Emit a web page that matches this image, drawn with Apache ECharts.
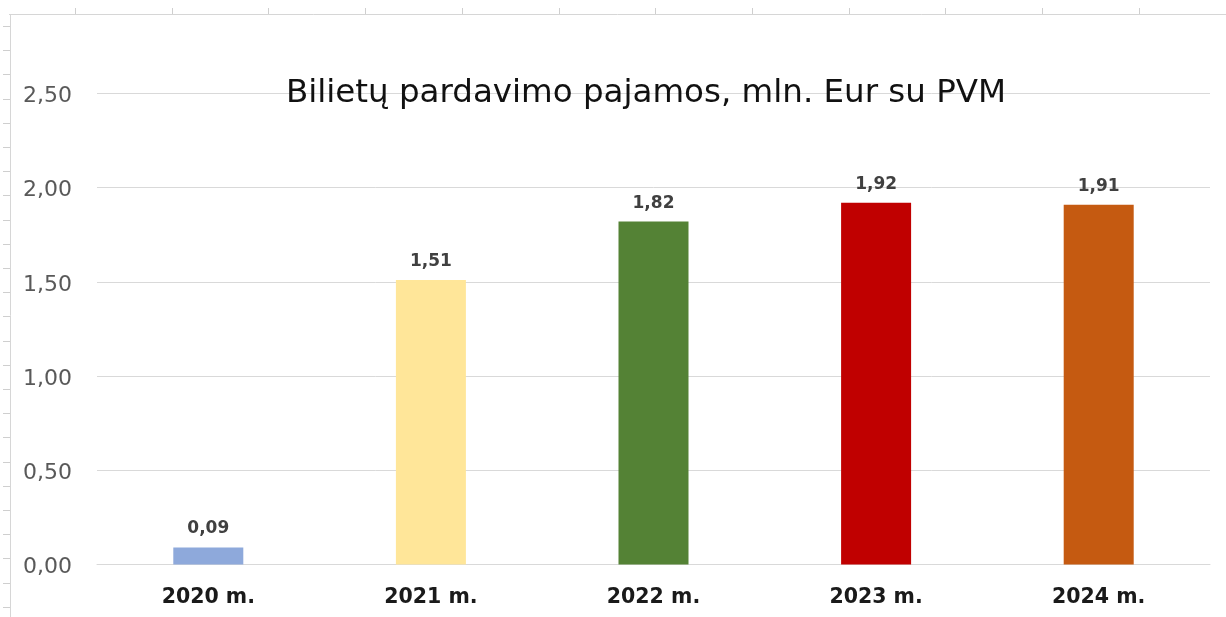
<!DOCTYPE html>
<html lang="lt">
<head>
  <meta charset="UTF-8">
  <title>Bilietų pardavimo pajamos</title>
  <style>
    html, body {
      width: 100%;
      height: 100%;
      margin: 0;
      background: #fff;
    }
  </style>
</head>
<body>
  <div id="chart" style="width:1226px;height:617px"></div>
  <script src="https://cdn.jsdelivr.net/npm/echarts@6/dist/echarts.min.js"></script>
  <script>
    var years = ['2020 m.', '2021 m.', '2022 m.', '2023 m.', '2024 m.'];
    var revenue = [0.09, 1.51, 1.82, 1.92, 1.91];
    var barColors = ['#8EA9DB', '#FFE699', '#548235', '#C00000', '#C55A11'];

    var myChart = echarts.init(document.getElementById('chart'));

    // sheet ruler lines round the picture (top and left)
    var ruler = [
      { type: 'line', shape: { x1: 9, y1: 14.5, x2: 1226, y2: 14.5 }, style: { stroke: '#d6d6d6', lineWidth: 1 } },
      { type: 'line', shape: { x1: 10.5, y1: 14, x2: 10.5, y2: 617 }, style: { stroke: '#d6d6d6', lineWidth: 1 } }
    ];
    for (var i = 0; i < 12; i++) {
      var tx = Math.round(75 + i * 96.7) + 0.5;
      ruler.push({ type: 'line', shape: { x1: tx, y1: 8, x2: tx, y2: 14 }, style: { stroke: '#cfcfcf', lineWidth: 1 } });
    }
    for (var j = 0; j < 25; j++) {
      var ty = Math.round(26 + j * 24.2) + 0.5;
      ruler.push({ type: 'line', shape: { x1: 3, y1: ty, x2: 10, y2: ty }, style: { stroke: '#cfcfcf', lineWidth: 1 } });
    }

    var option = {
      animation: false,
      title: {
        text: 'Bilietų pardavimo pajamos, mln. Eur su PVM',
        left: 641,
        top: 72,
        textAlign: 'center',
        textStyle: {
          fontFamily: 'DejaVu Sans',
          fontSize: 32.5,
          fontWeight: 'normal',
          color: '#111'
        }
      },
      graphic: ruler,
      grid: {
        left: 97,
        right: 16,
        top: 93.5,
        bottom: 52.5,
        containLabel: false
      },
      xAxis: {
        type: 'category',
        data: years,
        axisLine: { show: true, lineStyle: { color: '#d9d9d9', width: 1 } },
        axisTick: { show: false },
        axisLabel: {
          margin: 23,
          fontFamily: 'DejaVu Sans',
          fontSize: 20.5,
          lineHeight: 20,
          fontWeight: 'bold',
          color: '#1a1a1a'
        }
      },
      yAxis: {
        type: 'value',
        min: 0,
        max: 2.5,
        interval: 0.5,
        axisLine: { show: false },
        axisTick: { show: false },
        splitLine: { lineStyle: { color: '#d9d9d9', width: 1 } },
        axisLabel: {
          margin: 25,
          formatter: function (v) {
            return '{n|' + v.toFixed(2).replace('.', ',') + '}';
          },
          rich: {
            n: {
              fontFamily: 'DejaVu Sans',
              fontSize: 22,
              color: '#595959',
              padding: [6, 0, 0, 0]
            }
          }
        }
      },
      series: [{
        type: 'bar',
        barWidth: 70,
        data: revenue.map(function (v, k) {
          return { value: v, itemStyle: { color: barColors[k] } };
        }),
        label: {
          show: true,
          position: 'top',
          distance: 10,
          fontFamily: 'DejaVu Sans',
          fontSize: 17,
          fontWeight: 'bold',
          color: '#404040',
          formatter: function (p) {
            return p.value.toFixed(2).replace('.', ',');
          }
        }
      }]
    };

    myChart.setOption(option);
  </script>
</body>
</html>
